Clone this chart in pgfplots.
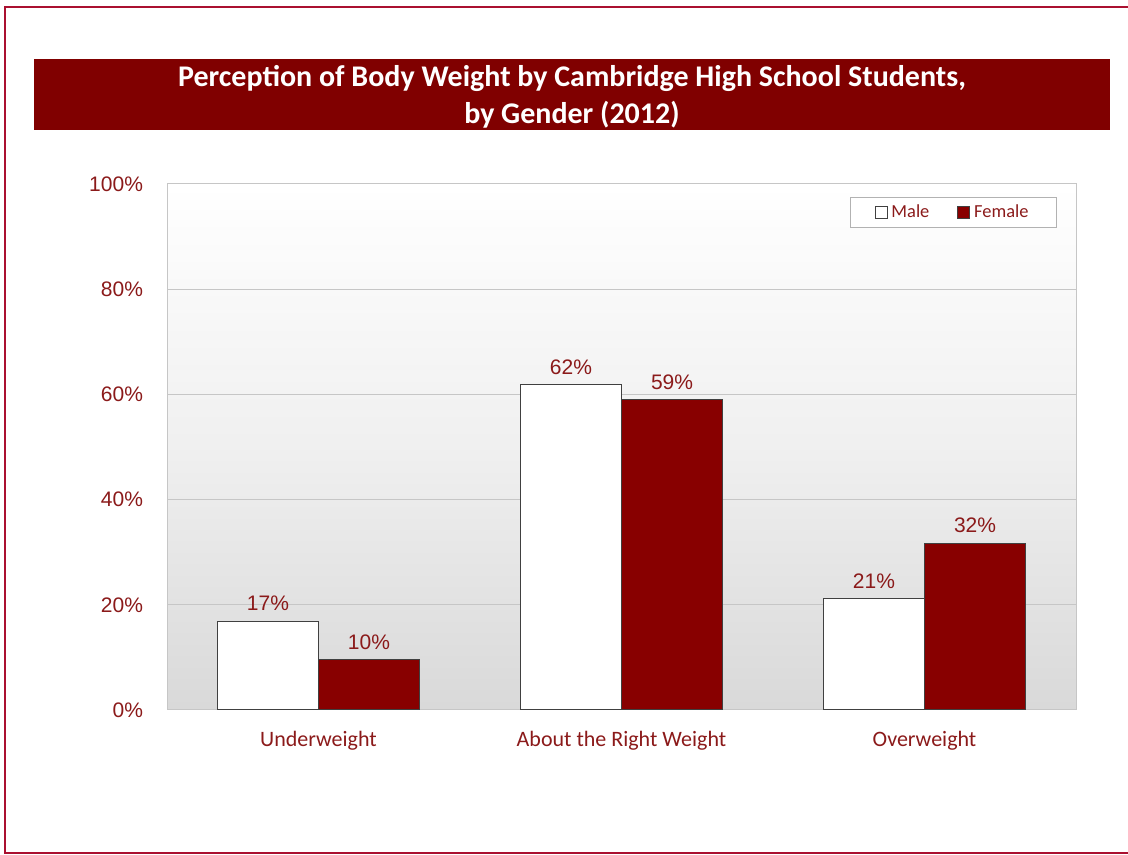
\documentclass[border=0pt]{standalone}
\usepackage{fontspec}
\setmainfont{Liberation Sans}
\newfontfamily\calfont{Carlito}
\usepackage{pgfplots}
\pgfplotsset{compat=1.18}
\definecolor{dred}{RGB}{128,0,0}
\definecolor{tred}{RGB}{139,26,26}
\definecolor{fred}{RGB}{136,0,0}
\definecolor{framec}{RGB}{170,16,48}
\begin{document}
\begin{tikzpicture}[x=0.5pt,y=0.5pt]
\useasboundingbox (0,0) rectangle (1128,855);
\begin{scope}
\clip (0,0) rectangle (1128,855);
\draw[framec,line width=1pt] (5,2) rectangle (1140,848);
\end{scope}
\fill[dred] (34,725) rectangle (1110,796);
\node[white,font=\calfont\bfseries\fontsize{15}{18.5}\selectfont,align=center] at (572,758) {Perception of Body Weight by Cambridge High School Students,\\by Gender (2012)};
\begin{axis}[
  at={(83.5pt,72.5pt)}, anchor=south west,
  scale only axis, width=454.5pt, height=263pt,
  xmin=-0.5, xmax=2.5, ymin=0, ymax=100,
  xtick={0,1,2},
  xticklabels={Underweight,About the Right Weight,Overweight},
  x tick label style={font=\calfont\fontsize{11}{13}\selectfont, text=tred, yshift=-7pt},
  ytick={0,20,40,60,80,100},
  yticklabel={\pgfmathprintnumber{\tick}\%},
  y tick label style={font=\fontsize{10.5}{12}\selectfont, text=tred, xshift=-8.5pt},
  /pgf/number format/assume math mode=true,
  major tick length=0pt,
  ymajorgrids, grid style={gray!45, line width=0.5pt},
  axis line style={gray!45, line width=0.5pt},
  axis background/.style={top color=white, bottom color=black!15, middle color=black!6},
  ybar=0pt, bar width=0.333,
  nodes near coords={\pgfmathprintnumber[fixed,precision=0]{\pgfplotspointmeta}\%},
  every node near coord/.append style={font=\fontsize{10.5}{12}\selectfont, text=tred, yshift=1.5pt},
  legend style={at={(0.979,0.975)}, anchor=north east, draw=gray!60, line width=0.5pt,
    font=\calfont\fontsize{9.2}{10}\selectfont, text=tred, inner xsep=12pt, inner ysep=1.5pt,
    /tikz/every even column/.append style={column sep=12pt}},
  legend columns=2,
  legend image code/.code={\draw[#1, line width=0.4pt] (0pt,-3pt) rectangle (6pt,3pt);},
]
\addplot[bar shift=-0.1667, fill=white, draw=black!75, line width=0.5pt] coordinates {(0,16.9) (1,61.8) (2,21.2)};
\addlegendentry{Male}
\addplot[bar shift=0.1667, fill=fred, draw=black!75, line width=0.5pt] coordinates {(0,9.6) (1,59.0) (2,31.7)};
\addlegendentry{Female}
\end{axis}
\end{tikzpicture}
\end{document}
